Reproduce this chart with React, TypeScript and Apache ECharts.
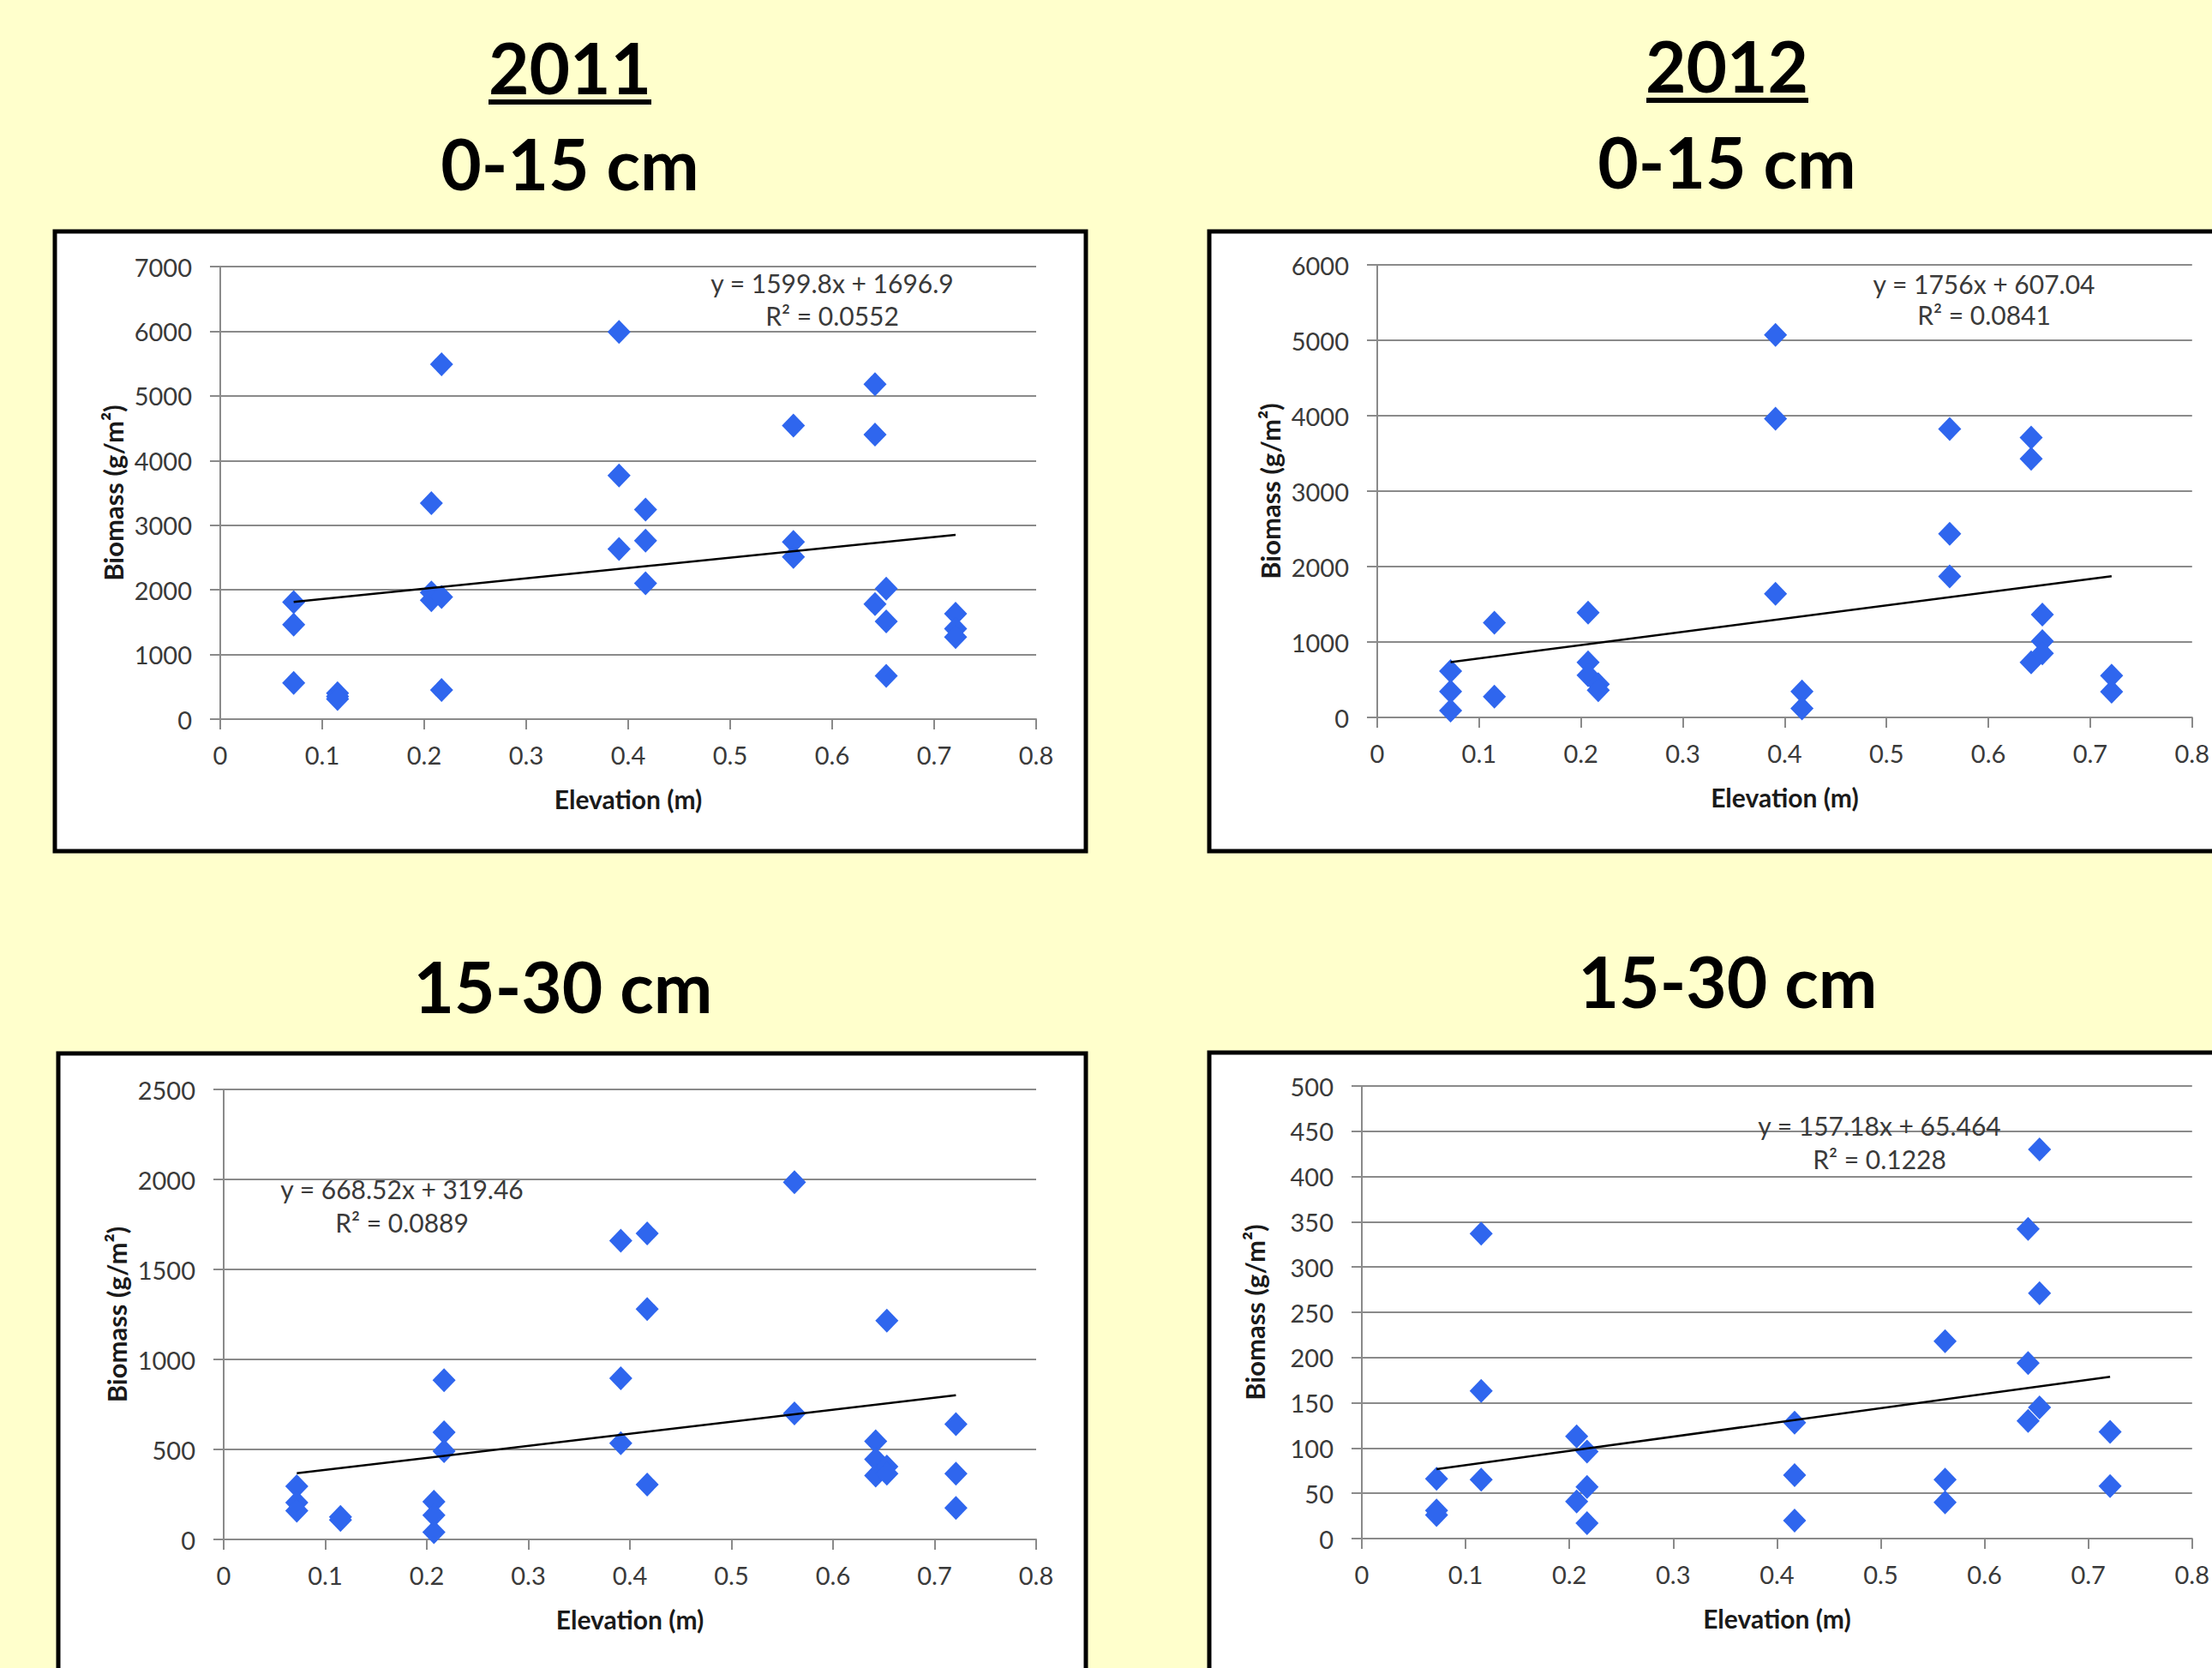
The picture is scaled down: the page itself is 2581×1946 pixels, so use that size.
import React, { useEffect, useRef } from "react";
import * as echarts from "echarts";

// ---------- DATA ----------
// Panel A: 2011, 0-15 cm
const elevA = [0.072, 0.072, 0.072, 0.115, 0.115, 0.115, 0.207, 0.207, 0.207, 0.217, 0.217, 0.217, 0.391, 0.391, 0.391, 0.417, 0.417, 0.417, 0.562, 0.562, 0.562, 0.642, 0.642, 0.642, 0.653, 0.653, 0.653, 0.721, 0.721, 0.721];
const biomassA = [1810, 1460, 560, 400, 350, 310, 3340, 1960, 1840, 5490, 1890, 450, 5990, 3770, 2630, 3240, 2760, 2100, 4540, 2740, 2510, 5180, 4400, 1780, 2020, 1510, 670, 1630, 1400, 1270];
// Panel B: 2012, 0-15 cm
const elevB = [0.072, 0.072, 0.072, 0.115, 0.115, 0.207, 0.207, 0.207, 0.217, 0.217, 0.391, 0.391, 0.391, 0.417, 0.417, 0.562, 0.562, 0.562, 0.642, 0.642, 0.642, 0.653, 0.653, 0.653, 0.721, 0.721];
const biomassB = [615, 345, 90, 1255, 275, 1390, 730, 560, 440, 360, 5070, 3960, 1640, 345, 120, 3825, 2435, 1870, 3710, 3430, 730, 1365, 1010, 850, 555, 340];
// Panel C: 2011, 15-30 cm
const elevC = [0.072, 0.072, 0.072, 0.115, 0.115, 0.207, 0.207, 0.207, 0.217, 0.217, 0.217, 0.391, 0.391, 0.391, 0.417, 0.417, 0.417, 0.562, 0.562, 0.642, 0.642, 0.642, 0.653, 0.653, 0.653, 0.721, 0.721, 0.721];
const biomassC = [295, 205, 160, 125, 108, 210, 135, 40, 885, 595, 490, 1660, 895, 535, 1700, 1280, 305, 1985, 700, 545, 445, 355, 1215, 405, 365, 640, 365, 175];
// Panel D: 2012, 15-30 cm
const elevD = [0.072, 0.072, 0.072, 0.115, 0.115, 0.115, 0.207, 0.207, 0.217, 0.217, 0.217, 0.417, 0.417, 0.417, 0.562, 0.562, 0.562, 0.642, 0.642, 0.642, 0.653, 0.653, 0.653, 0.721, 0.721];
const biomassD = [66, 31, 26, 337, 163, 65, 113, 41, 96, 57, 17, 128, 70, 20, 218, 65, 40, 342, 194, 130, 430, 271, 145, 118, 58];

// Linear trend lines (slope, intercept) and their labels
const trendSlopes = [1599.8, 1756, 668.52, 157.18];
const trendIntercepts = [1696.9, 607.04, 319.46, 65.464];
const equationLabels = ["y = 1599.8x + 1696.9", "y = 1756x + 607.04", "y = 668.52x + 319.46", "y = 157.18x + 65.464"];
const r2Labels = ["R² = 0.0552", "R² = 0.0841", "R² = 0.0889", "R² = 0.1228"];

// Axis ranges
const xTicks = [0, 0.8, 0.1];
const yMaxes = [7000, 6000, 2500, 500];
const yIntervals = [1000, 1000, 500, 50];

const yearTitles = ["2011", "2012"];
const depthTitles = ["0-15 cm", "15-30 cm"];
const xAxisName = "Elevation (m)";
const yAxisName = "Biomass (g/m²)";

// ---------- LAYOUT ----------
const FONT = "Lato, 'Open Sans', sans-serif";
const GRID_COLOR = "#8a8a8a";
const TEXT_COLOR = "#3a3a3a";
const MARKER = "#2F66EE";

const grids = [
  { left: 257, top: 311, width: 952, height: 528 },
  { left: 1607, top: 309, width: 952, height: 528 },
  { left: 261, top: 1271, width: 948, height: 525 },
  { left: 1589, top: 1267, width: 970, height: 528 },
];
const eqPos = [
  { x: 971, y: 330, y2: 368 },
  { x: 2315, y: 331, y2: 367 },
  { x: 469, y: 1387, y2: 1426 },
  { x: 2193, y: 1313, y2: 1352 },
];

function buildOption() {
  const xs = [elevA, elevB, elevC, elevD];
  const ys = [biomassA, biomassB, biomassC, biomassD];

  const xAxis = grids.map((_, i) => ({
    type: "value",
    gridIndex: i,
    min: xTicks[0],
    max: xTicks[1],
    interval: xTicks[2],
    name: xAxisName,
    nameLocation: "middle",
    nameGap: 78,
    nameTextStyle: { fontFamily: FONT, fontWeight: "bold", fontSize: 30, color: "#1a1a1a" },
    axisLine: { show: true, onZero: false, lineStyle: { color: GRID_COLOR, width: 2 } },
    axisTick: { show: true, inside: false, length: 12, lineStyle: { color: GRID_COLOR, width: 2 } },
    splitLine: { show: false },
    axisLabel: {
      fontFamily: FONT,
      fontSize: 29,
      color: TEXT_COLOR,
      margin: 27,
      formatter: (v: number) => (Math.abs(v) < 1e-9 ? "0" : (Math.round(v * 10) / 10).toFixed(1)),
    },
  }));

  const yAxis = grids.map((_, i) => ({
    type: "value",
    gridIndex: i,
    min: 0,
    max: yMaxes[i],
    interval: yIntervals[i],
    name: yAxisName,
    nameLocation: "middle",
    nameGap: 110,
    nameTextStyle: { fontFamily: FONT, fontWeight: "bold", fontSize: 31, color: "#1a1a1a" },
    axisLine: { show: true, lineStyle: { color: GRID_COLOR, width: 2 } },
    axisTick: { show: true, inside: false, length: 12, lineStyle: { color: GRID_COLOR, width: 2 } },
    splitLine: { show: true, lineStyle: { color: GRID_COLOR, width: 2 } },
    axisLabel: {
      fontFamily: FONT,
      fontSize: 29,
      color: TEXT_COLOR,
      margin: 33,
      formatter: (v: number) => String(Math.round(v)),
    },
  }));

  const series: any[] = [];
  grids.forEach((_, i) => {
    const pts = xs[i].map((x, k) => [x, ys[i][k]]);
    series.push({
      type: "scatter",
      xAxisIndex: i,
      yAxisIndex: i,
      symbol: "diamond",
      symbolSize: [27, 28],
      itemStyle: { color: MARKER, opacity: 1 },
      data: pts,
      z: 2,
    });
    const xmin = Math.min(...xs[i]);
    const xmax = Math.max(...xs[i]);
    series.push({
      type: "line",
      xAxisIndex: i,
      yAxisIndex: i,
      symbol: "none",
      showSymbol: false,
      lineStyle: { color: "#000", width: 2.5 },
      data: [
        [xmin, trendSlopes[i] * xmin + trendIntercepts[i]],
        [xmax, trendSlopes[i] * xmax + trendIntercepts[i]],
      ],
      z: 3,
    });
  });

  const titleStyle = (text: string) => ({
    text,
    fontFamily: FONT,
    fontWeight: "bold",
    fontSize: 82,
    fill: "#000",
    align: "center",
    verticalAlign: "middle",
  });

  const eqStyle = (text: string) => ({
    text,
    fontFamily: FONT,
    fontSize: 30,
    fill: TEXT_COLOR,
    align: "center",
    verticalAlign: "middle",
  });

  const graphic: any[] = [
    // panel boxes
    { type: "rect", z: -100, shape: { x: 64, y: 270, width: 1203, height: 723 }, style: { fill: "#fff", stroke: "#000", lineWidth: 5 } },
    { type: "rect", z: -100, shape: { x: 1411, y: 270, width: 1250, height: 723 }, style: { fill: "#fff", stroke: "#000", lineWidth: 5 } },
    { type: "rect", z: -100, shape: { x: 68, y: 1229, width: 1199, height: 800 }, style: { fill: "#fff", stroke: "#000", lineWidth: 5 } },
    { type: "rect", z: -100, shape: { x: 1411, y: 1228, width: 1250, height: 800 }, style: { fill: "#fff", stroke: "#000", lineWidth: 5 } },
    // titles
    { type: "text", x: 665, y: 78, style: titleStyle(yearTitles[0]), z: 100 },
    { type: "rect", shape: { x: 570, y: 116, width: 190, height: 6 }, style: { fill: "#000" }, z: 100 },
    { type: "text", x: 2015, y: 76, style: titleStyle(yearTitles[1]), z: 100 },
    { type: "rect", shape: { x: 1921, y: 114, width: 189, height: 6 }, style: { fill: "#000" }, z: 100 },
    { type: "text", x: 665, y: 190, style: titleStyle(depthTitles[0]), z: 100 },
    { type: "text", x: 2015, y: 188, style: titleStyle(depthTitles[0]), z: 100 },
    { type: "text", x: 657, y: 1150, style: titleStyle(depthTitles[1]), z: 100 },
    { type: "text", x: 2016, y: 1144, style: titleStyle(depthTitles[1]), z: 100 },
  ];
  eqPos.forEach((p, i) => {
    graphic.push({ type: "text", x: p.x, y: p.y, style: eqStyle(equationLabels[i]), z: 100 });
    graphic.push({ type: "text", x: p.x, y: p.y2, style: eqStyle(r2Labels[i]), z: 100 });
  });

  return {
    animation: false,
    backgroundColor: "#FFFFCC",
    grid: grids.map((g) => ({ ...g, containLabel: false })),
    xAxis,
    yAxis,
    series,
    graphic,
  };
}

export default function App() {
  const ref = useRef<HTMLDivElement>(null);
  useEffect(() => {
    document.body.style.margin = "0";
    document.body.style.background = "#FFFFCC";
    if (!ref.current) return;
    const chart = echarts.init(ref.current, undefined, { renderer: "svg" });
    chart.setOption(buildOption() as any);
    return () => chart.dispose();
  }, []);
  return <div ref={ref} style={{ width: 2581, height: 1946, overflow: "hidden" }} />;
}
